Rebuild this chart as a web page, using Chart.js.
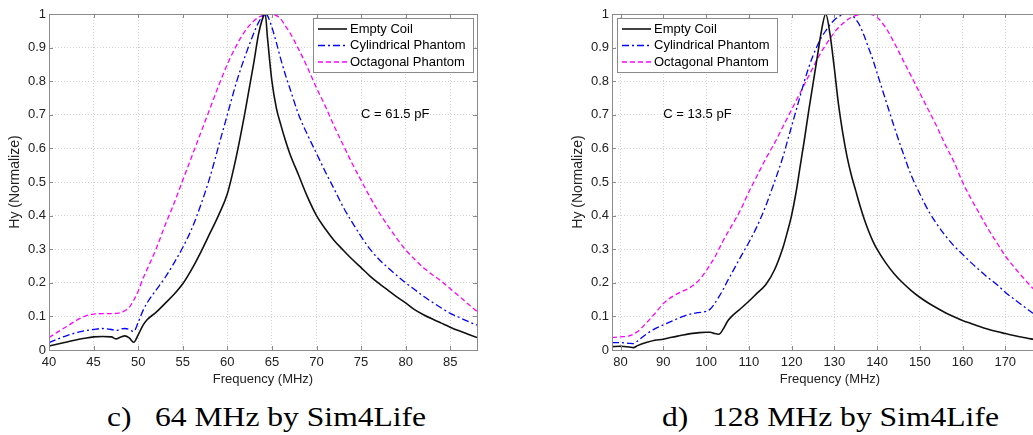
<!DOCTYPE html>
<html>
<head>
<meta charset="utf-8">
<title>Hy vs Frequency - Sim4Life</title>
<script src="https://cdn.jsdelivr.net/npm/chart.js@4.4.0/dist/chart.umd.min.js"></script>
<style>
    html, body { margin: 0; padding: 0; background: #fff; }
    body { width: 1033px; height: 435px; overflow: hidden; position: relative; }
    canvas { position: absolute; top: 0; }
    #chart-c { left: 0; }
    #chart-d { left: 563px; }
    .caption {
        position: absolute;
        top: 404px;
        font-family: 'Liberation Serif', 'Times New Roman', serif;
        font-size: 27px;
        line-height: 27px;
        color: #000;
        white-space: nowrap;
        transform: scaleX(1.17);
        transform-origin: left top;
    }
</style>
</head>
<body>
<canvas id="chart-c" width="480" height="390"></canvas>
<canvas id="chart-d" width="488" height="390"></canvas>
<div class="caption" style="left:107px">c)</div>
<div class="caption" style="left:155px">64 MHz by Sim4Life</div>
<div class="caption" style="left:662px">d)</div>
<div class="caption" style="left:712px">128 MHz by Sim4Life</div>
<script>
const seriesLabels = ['Empty Coil', 'Cylindrical Phantom', 'Octagonal Phantom'];
const yTicks = [0, 0.1, 0.2, 0.3, 0.4, 0.5, 0.6, 0.7, 0.8, 0.9, 1];

// c) 64 MHz
const xTicksC = [40, 45, 50, 55, 60, 65, 70, 75, 80, 85];
const freqC = [40, 41, 42, 43, 44, 45, 46, 47, 47.5, 48, 48.5, 49, 49.5, 50, 50.5,
    51, 52, 53, 54, 55, 56, 57, 58, 59, 60, 61, 62, 63,
    63.5, 64, 64.25, 64.5, 65, 65.5, 66, 66.5,
    67, 68, 69, 70, 71, 72, 73, 74, 75, 76, 77, 78, 79, 80, 81, 82, 83, 84, 85, 86, 87, 88];
const emptyC = [0.012, 0.018, 0.024, 0.030, 0.035, 0.039, 0.040, 0.039, 0.033, 0.038, 0.042, 0.036, 0.023, 0.045, 0.072,
    0.09, 0.112, 0.138, 0.165, 0.197, 0.24, 0.29, 0.345, 0.40, 0.465, 0.575, 0.71, 0.86,
    0.94, 0.99, 1.0, 0.93, 0.80, 0.72, 0.67, 0.625,
    0.585, 0.52, 0.455, 0.40, 0.36, 0.325, 0.297, 0.27, 0.245, 0.22, 0.198, 0.178, 0.158, 0.14, 0.12, 0.105, 0.092, 0.08, 0.068, 0.057, 0.047, 0.037];
const cylC = [0.022, 0.033, 0.043, 0.051, 0.057, 0.061, 0.064, 0.061, 0.058, 0.062, 0.064, 0.061, 0.055, 0.082, 0.115,
    0.14, 0.178, 0.215, 0.258, 0.305, 0.36, 0.43, 0.51, 0.605, 0.70, 0.795, 0.875, 0.945,
    0.975, 0.995, 1.0, 0.995, 0.96, 0.915, 0.865, 0.82,
    0.78, 0.70, 0.64, 0.585, 0.53, 0.478, 0.425, 0.38, 0.338, 0.30, 0.27, 0.245, 0.222, 0.20, 0.18, 0.16, 0.142, 0.125, 0.109, 0.097, 0.085, 0.074];
const octC = [0.037, 0.054, 0.07, 0.087, 0.1, 0.107, 0.108, 0.108, 0.109, 0.111, 0.117, 0.127, 0.148, 0.175, 0.21,
    0.24, 0.30, 0.37, 0.435, 0.505, 0.575, 0.645, 0.715, 0.785, 0.85, 0.905, 0.95, 0.98,
    0.99, 0.996, 0.998, 1.0, 1.0, 0.995, 0.985, 0.965,
    0.945, 0.895, 0.84, 0.78, 0.725, 0.665, 0.61, 0.555, 0.505, 0.455, 0.41, 0.37, 0.332, 0.298, 0.27, 0.245, 0.224, 0.205, 0.182, 0.16, 0.137, 0.115];

// d) 128 MHz
const xTicksD = [80, 90, 100, 110, 120, 130, 140, 150, 160, 170];
const freqD = [78, 80, 82, 83, 84, 86, 88, 90, 92, 94, 96, 98, 100,
    101, 102, 103, 104, 105, 106, 108, 110, 112, 114, 116, 118,
    119, 120, 121, 122, 123, 124, 125, 126, 127, 128, 129, 130, 131, 132, 133, 134, 135, 136, 137, 138, 139, 140,
    142, 144, 146, 148, 150, 152, 154, 156, 158, 160, 162, 164, 166, 168, 170, 172, 174, 176, 178, 180];
const emptyD = [0.010, 0.011, 0.009, 0.007, 0.013, 0.022, 0.029, 0.032, 0.038, 0.043, 0.048, 0.051, 0.053,
    0.053, 0.049, 0.047, 0.062, 0.085, 0.10, 0.122, 0.145, 0.17, 0.195, 0.238, 0.305,
    0.35, 0.40, 0.465, 0.545, 0.625, 0.71, 0.79, 0.87, 0.95, 1.0, 0.94, 0.84, 0.73, 0.645, 0.575, 0.52, 0.475, 0.43, 0.39, 0.355, 0.325, 0.30,
    0.26, 0.227, 0.20, 0.177, 0.157, 0.14, 0.125, 0.111, 0.099, 0.088, 0.079, 0.07, 0.062, 0.055, 0.049, 0.043, 0.038, 0.033, 0.029, 0.026];
const cylD = [0.022, 0.022, 0.02, 0.019, 0.027, 0.047, 0.063, 0.075, 0.086, 0.097, 0.106, 0.111, 0.115,
    0.122, 0.138, 0.158, 0.18, 0.205, 0.228, 0.275, 0.32, 0.37, 0.43, 0.50, 0.575,
    0.62, 0.665, 0.71, 0.755, 0.80, 0.84, 0.875, 0.905, 0.93, 0.95, 0.968, 0.982, 0.992, 0.998, 1.0, 0.997, 0.985, 0.965, 0.935, 0.9, 0.865, 0.825,
    0.745, 0.665, 0.59, 0.52, 0.465, 0.415, 0.375, 0.34, 0.31, 0.285, 0.26, 0.237, 0.215, 0.195, 0.172, 0.152, 0.133, 0.114, 0.098, 0.085];
const octD = [0.037, 0.039, 0.042, 0.047, 0.055, 0.08, 0.108, 0.138, 0.158, 0.172, 0.184, 0.203, 0.235,
    0.255, 0.275, 0.30, 0.325, 0.348, 0.37, 0.415, 0.47, 0.52, 0.57, 0.615, 0.665,
    0.69, 0.715, 0.74, 0.765, 0.79, 0.815, 0.84, 0.865, 0.888, 0.908, 0.927, 0.945, 0.96, 0.972, 0.982, 0.99, 0.995, 0.998, 1.0, 1.0, 0.997, 0.99,
    0.96, 0.915, 0.865, 0.815, 0.765, 0.715, 0.665, 0.61, 0.56, 0.50, 0.45, 0.405, 0.36, 0.32, 0.28, 0.248, 0.218, 0.19, 0.165, 0.145];

const sansFont = '"Liberation Sans", Arial, sans-serif';
const frameColor = '#8a8a8a';
const gridColor = '#d2d2d2';
const textColor = '#222';

// line looks, one per series
const seriesStyles = [
    { color: '#111111', width: 1.6, dash: [] },
    { color: '#0000ff', width: 1.3, dash: [7, 3, 2, 3] },
    { color: '#ff00ff', width: 1.3, dash: [5, 3] }
];

// plugin to draw the matlab style box, inner ticks, legend and the C note
const matlabFrame = {
    id: 'matlabFrame',
    afterDraw(chart, args, opts) {
        const { ctx, chartArea: a, scales } = chart;
        ctx.save();
        ctx.setLineDash([]);
        ctx.lineWidth = 1;
        ctx.strokeStyle = frameColor;
        ctx.strokeRect(a.left + 0.5, a.top + 0.5, a.right - a.left, a.bottom - a.top);

        ctx.beginPath();
        scales.x.ticks.forEach(t => {
            const px = Math.round(scales.x.getPixelForValue(t.value)) + 0.5;
            if (px <= a.left + 1 || px >= a.right - 1) return;
            ctx.moveTo(px, a.bottom); ctx.lineTo(px, a.bottom - 4);
            ctx.moveTo(px, a.top); ctx.lineTo(px, a.top + 4);
        });
        scales.y.ticks.forEach(t => {
            const py = Math.round(scales.y.getPixelForValue(t.value)) + 0.5;
            if (py <= a.top + 1 || py >= a.bottom - 1) return;
            ctx.moveTo(a.left, py); ctx.lineTo(a.left + 4, py);
            ctx.moveTo(a.right, py); ctx.lineTo(a.right - 4, py);
        });
        ctx.stroke();

        // the capacitance note
        ctx.font = '13px ' + sansFont;
        ctx.fillStyle = '#000';
        ctx.textAlign = 'left';
        ctx.textBaseline = 'middle';
        ctx.fillText(opts.note, scales.x.getPixelForValue(opts.noteX), scales.y.getPixelForValue(opts.noteY));

        // legend box
        const boxW = 160, boxH = 54;
        const bx = opts.legendSide === 'right' ? a.right - 4 - boxW : a.left + 5;
        const by = a.top + 4;
        ctx.fillStyle = '#fff';
        ctx.fillRect(bx + 0.5, by + 0.5, boxW, boxH);
        ctx.strokeStyle = frameColor;
        ctx.strokeRect(bx + 0.5, by + 0.5, boxW, boxH);
        chart.data.datasets.forEach((ds, i) => {
            const ly = by + 11 + i * 16.5;
            ctx.strokeStyle = ds.borderColor;
            ctx.lineWidth = ds.borderWidth;
            ctx.setLineDash(ds.borderDash);
            ctx.beginPath();
            ctx.moveTo(bx + 5, ly);
            ctx.lineTo(bx + 34, ly);
            ctx.stroke();
            ctx.setLineDash([]);
            ctx.fillStyle = '#000';
            ctx.fillText(ds.label, bx + 37, ly);
        });
        ctx.restore();
    }
};

// function to turn the arrays into chart.js datasets
function buildDatasets(freq, seriesList) {
    return seriesList.map((values, i) => ({
        label: seriesLabels[i],
        data: freq.map((f, k) => ({ x: f, y: values[k] })),
        borderColor: seriesStyles[i].color,
        borderWidth: seriesStyles[i].width,
        borderDash: seriesStyles[i].dash,
        pointRadius: 0,
        fill: false,
        cubicInterpolationMode: 'monotone'
    }));
}

// function to make one of the two panels
function makePanel(canvasId, freq, seriesList, xTicks, xMin, xMax, note, noteX, legendSide) {
    const ctx = document.getElementById(canvasId).getContext('2d');
    return new Chart(ctx, {
        type: 'line',
        data: { datasets: buildDatasets(freq, seriesList) },
        options: {
            responsive: false,
            animation: false,
            events: [],
            layout: { padding: { top: 14, right: 3, bottom: 0, left: 0 } },
            plugins: {
                legend: { display: false },
                tooltip: { enabled: false },
                matlabFrame: { note: note, noteX: noteX, noteY: 0.7, legendSide: legendSide }
            },
            scales: {
                x: {
                    type: 'linear',
                    min: xMin,
                    max: xMax,
                    afterBuildTicks: scale => { scale.ticks = xTicks.map(v => ({ value: v })); },
                    afterFit: scale => { scale.height = 40; },
                    grid: { color: gridColor, lineWidth: 1, drawTicks: false, borderDash: [1, 2] },
                    border: { display: false, dash: [1, 2] },
                    ticks: {
                        autoSkip: false, maxRotation: 0, padding: 5, color: textColor,
                        font: { family: sansFont, size: 13 },
                        callback: v => String(v)
                    },
                    title: {
                        display: true, text: 'Frequency (MHz)', color: textColor,
                        font: { family: sansFont, size: 13 },
                        padding: { top: 0, bottom: 3 }
                    }
                },
                y: {
                    type: 'linear',
                    min: 0,
                    max: 1,
                    afterBuildTicks: scale => { scale.ticks = yTicks.map(v => ({ value: v })); },
                    afterFit: scale => { scale.width = 49; },
                    grid: { color: gridColor, lineWidth: 1, drawTicks: false, borderDash: [1, 2] },
                    border: { display: false, dash: [1, 2] },
                    ticks: {
                        padding: 3, color: textColor,
                        font: { family: sansFont, size: 13 },
                        callback: v => String(Math.round(v * 10) / 10)
                    },
                    title: {
                        display: true, text: 'Hy (Normalize)', color: textColor,
                        font: { family: sansFont, size: 14 },
                        padding: { top: 7, bottom: 0 }
                    }
                }
            }
        },
        plugins: [matlabFrame]
    });
}

document.addEventListener('DOMContentLoaded', function() {
    makePanel('chart-c', freqC, [emptyC, cylC, octC], xTicksC, 40, 88, 'C = 61.5 pF', 75, 'right');
    makePanel('chart-d', freqD, [emptyD, cylD, octD], xTicksD, 78, 180, 'C = 13.5 pF', 90, 'left');
});
</script>
</body>
</html>
